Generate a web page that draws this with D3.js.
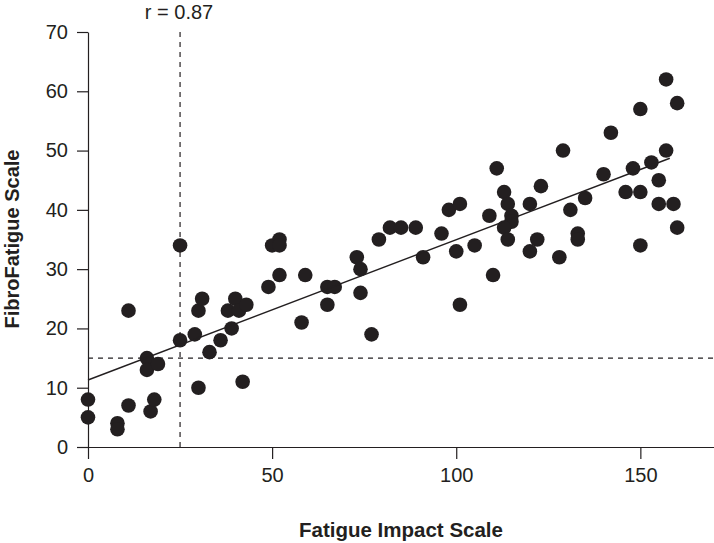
<!DOCTYPE html>
<meta charset="utf-8">
<style>
body { margin: 0; background: #fff; }
text { font-family: "Liberation Sans", Arial, sans-serif; fill: #231f20; }
</style>
<svg width="714" height="543"></svg>
<script src="https://d3js.org/d3.v7.min.js"></script>
<script>

// Fatigue Impact Scale (x) vs FibroFatigue Scale (y)
var fisValues = [0, 0, 8, 8, 11, 11, 16, 16, 19, 17, 18, 25, 25, 29, 30, 31, 30, 33, 36, 39,
  38, 40, 41, 43, 42, 49, 50, 52, 52, 52, 58, 59, 65, 67, 65, 73, 74, 74, 77, 79,
  82, 85, 89, 91, 96, 98, 101, 100, 101, 105, 110, 109, 111, 113, 114, 115, 115, 113, 114, 120,
  123, 122, 120, 128, 129, 131, 133, 133, 135, 140, 142, 148, 146, 150, 150, 150, 153, 155, 155, 157,
  157, 159, 160, 160];
var ffValues = [8, 5, 4, 3, 7, 23, 15, 13, 14, 6, 8, 18, 34, 19, 23, 25, 10, 16, 18, 20,
  23, 25, 23, 24, 11, 27, 34, 35, 34, 29, 21, 29, 27, 27, 24, 32, 30, 26, 19, 35,
  37, 37, 37, 32, 36, 40, 41, 33, 24, 34, 29, 39, 47, 43, 41, 39, 38, 37, 35, 41,
  44, 35, 33, 32, 50, 40, 36, 35, 42, 46, 53, 47, 43, 43, 57, 34, 48, 45, 41, 50,
  62, 41, 58, 37];

var xTicks = [0, 50, 100, 150];
var yTicks = [0, 10, 20, 30, 40, 50, 60, 70];

// regression line end points and cut-off lines
var fitX = [0, 158];
var fitY = [11.3, 48.7];
var cutX = 25;
var cutY = 15;
var rLabel = "r = 0.87";

var svg = d3.select("svg"),
    margin = {top: 32, right: 0, bottom: 96, left: 88},
    width = +svg.attr("width"),
    height = +svg.attr("height");

var x = d3.scaleLinear().domain([0, 170]).range([margin.left, width - margin.right]);
var y = d3.scaleLinear().domain([0, 70]).range([height - margin.bottom, margin.top]);

var ink = "#231f20";

// axes
var xAxis = svg.append("g")
    .attr("transform", "translate(0," + y(0) + ")")
    .call(d3.axisBottom(x).tickValues(xTicks).tickSize(12).tickPadding(9).tickSizeOuter(0));
var yAxis = svg.append("g")
    .attr("transform", "translate(" + x(0) + ",0)")
    .call(d3.axisLeft(y).tickValues(yTicks).tickSize(11).tickPadding(9).tickSizeOuter(0));

[xAxis, yAxis].forEach(function(g) {
  g.select(".domain").attr("stroke", ink).attr("stroke-width", 1.2);
  g.selectAll(".tick line").attr("stroke", ink).attr("stroke-width", 1.2);
  g.selectAll(".tick text").attr("fill", ink)
    .style("font-size", "20px")
    .style("font-family", "'Liberation Sans', Arial, sans-serif");
});

// dashed cut-off lines
svg.append("line")
    .attr("x1", x(cutX)).attr("x2", x(cutX))
    .attr("y1", y(70)).attr("y2", y(0))
    .attr("stroke", ink).attr("stroke-width", 1.2)
    .attr("stroke-dasharray", "5,5");
svg.append("line")
    .attr("x1", x(0)).attr("x2", x(170))
    .attr("y1", y(cutY)).attr("y2", y(cutY))
    .attr("stroke", ink).attr("stroke-width", 1.2)
    .attr("stroke-dasharray", "5,5");

// points
svg.append("g")
    .attr("fill", ink)
  .selectAll("circle")
  .data(fisValues.map(function(v, i) { return {x: v, y: ffValues[i]}; }))
  .enter().append("circle")
    .attr("cx", function(d) { return x(d.x); })
    .attr("cy", function(d) { return y(d.y); })
    .attr("r", 7.3);

// fit line
svg.append("line")
    .attr("x1", x(fitX[0])).attr("y1", y(fitY[0]))
    .attr("x2", x(fitX[1])).attr("y2", y(fitY[1]))
    .attr("stroke", ink).attr("stroke-width", 1.4);

// labels
svg.append("text")
    .attr("x", x(cutX) - 1).attr("y", 19)
    .attr("text-anchor", "middle")
    .style("font-size", "20px")
    .text(rLabel);

svg.append("text")
    .attr("x", (x(0) + x(170)) / 2).attr("y", 537)
    .attr("text-anchor", "middle")
    .style("font-size", "20.5px")
    .style("font-weight", "bold")
    .text("Fatigue Impact Scale");

svg.append("text")
    .attr("transform", "translate(19,239) rotate(-90)")
    .attr("text-anchor", "middle")
    .style("font-size", "20px")
    .style("font-weight", "bold")
    .text("FibroFatigue Scale");

</script>
